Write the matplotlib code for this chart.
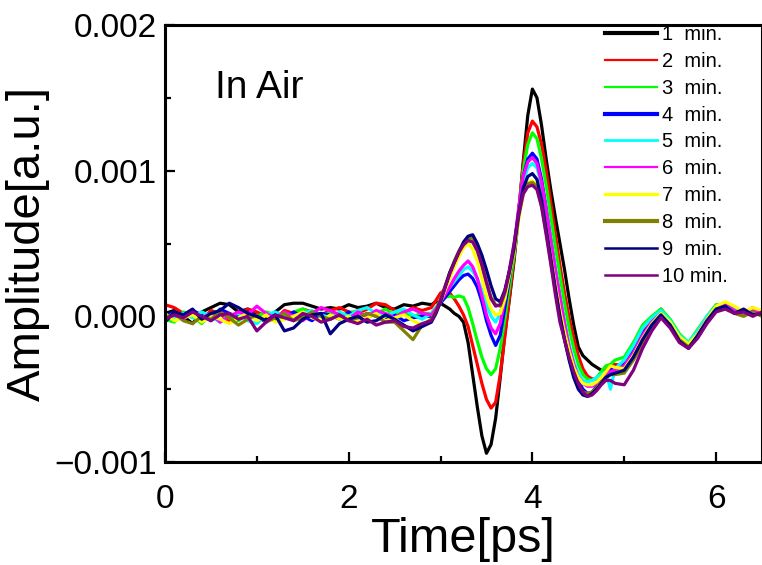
import matplotlib
matplotlib.use('Agg')
import matplotlib.pyplot as plt
from matplotlib.lines import Line2D
from matplotlib.ticker import MultipleLocator, FuncFormatter
import numpy as np

matplotlib.rcParams['font.family'] = ['Liberation Sans', 'DejaVu Sans']

# time grid [ps]: coarse baseline, fine pulse, coarse tail
t_base = np.round(np.arange(0.0, 2.85, 0.1), 2)     # 29 pts
t_pulse = np.round(np.arange(2.9, 4.925, 0.05), 2)  # 41 pts
t_tail = np.round(np.arange(5.0, 6.55, 0.1), 2)     # 16 pts
t = np.concatenate([t_base, t_pulse, t_tail])

labels = ['1  min.', '2  min.', '3  min.', '4  min.', '5  min.',
          '6  min.', '7  min.', '8  min.', '9  min.', '10 min.']
colors = ['#000000', '#ff0000', '#00ff00', '#0000ff', '#00ffff',
          '#ff00ff', '#ffff00', '#808000', '#000080', '#800080']
legend_lw = [3.0, 1.6, 1.6, 3.0, 2.0, 1.6, 2.4, 3.0, 1.8, 1.8]

# amplitude values in units of 1e-5 a.u.
amp_1 = [2, 4, 0, -5, 3, 6, 9, 8, 3, 5, 2, -2, 3, 8, 9, 9, 7, 5, 6, 5, 8, 6, 7, 9, 6, 5, 8, 7, 9] + \
    [8, 10, 9, 7, 5, 2, 0, -4, -18, -40,
     -62, -82, -94, -88, -70, -42, -12, 12, 38, 70,
     106, 138, 156, 150, 131, 108, 87, 68, 50, 32,
     12, -6, -21, -27, -30, -33, -35, -37, -38, -36,
     -35] + \
    [-33, -25, -12, -3, 4, -4, -14, -19, -11, -2, 6, 8, 4, 2, 5, 3]
amp_2 = [8, 6, 2, 0, -3, 4, 2, -4, 1, 5, 3, 0, -2, 4, 2, 5, 3, 1, 4, 6, 3, 2, 5, 9, 8, 4, 2, 6, 4] + \
    [6, 11, 16, 18, 16, 12, 7, 1, -7, -20,
     -33, -46, -57, -63, -59, -40, -14, 13, 40, 72,
     104, 126, 134, 130, 118, 100, 78, 56, 35, 16,
     -1, -15, -27, -36, -41, -43, -43, -40, -37, -34,
     -33] + \
    [-34, -24, -10, -2, 5, -3, -14, -21, -12, -1, 7, 9, 6, 2, 6, 1]
amp_3 = [-2, -4, 3, 0, -5, 2, 4, -1, -3, 2, 0, 3, 1, -2, 3, 5, 2, 0, 3, 1, 2, 4, -1, 2, 5, 1, 3, 0, 2] + \
    [2, 6, 10, 13, 14, 13, 14, 13, 6, -5,
     -17, -28, -36, -40, -36, -22, -2, 20, 42, 72,
     100, 118, 126, 122, 108, 90, 69, 48, 28, 9,
     -8, -22, -33, -40, -43, -44, -42, -38, -34, -33,
     -30] + \
    [-28, -18, -6, 0, 5, -2, -12, -18, -9, 0, 8, 8, 5, 3, 4, 2]
amp_4 = [0, 3, -2, 4, 1, -3, 5, 2, -1, 3, 0, -4, 2, -1, 3, 0, -3, 2, 1, -2, 3, -1, 2, 0, -2, 1, -3, -1, 0] + \
    [0, 4, 9, 13, 17, 21, 25, 28, 29, 26,
     20, 10, -3, -13, -20, -13, 6, 26, 46, 72,
     96, 108, 112, 108, 94, 74, 53, 32, 13, -5,
     -21, -34, -44, -50, -53, -52, -48, -44, -40, -37,
     -35] + \
    [-33, -24, -12, -4, 3, -4, -15, -20, -11, -1, 7, 9, 5, 3, 5, 2]
amp_5 = [1, -2, 2, -1, 3, 0, -4, 1, 2, -3, -5, 1, 3, 0, -2, 2, 4, 1, -1, 3, 0, 4, 6, 2, 0, 3, 5, 1, -2] + \
    [2, 6, 11, 16, 20, 24, 28, 32, 34, 31,
     26, 18, 8, 0, -4, 2, 15, 31, 48, 72,
     92, 102, 105, 102, 90, 72, 52, 32, 13, -4,
     -19, -31, -39, -44, -45, -44, -42, -40, -38, -50,
     -36] + \
    [-30, -20, -8, -1, 4, -3, -13, -18, -10, 0, 7, 8, 5, 2, 4, 3]
amp_6 = [-3, 1, -2, 3, -1, 2, -4, 0, 3, 1, 7, 2, -1, 3, 0, -3, 2, 6, 4, 1, -2, 3, 0, 4, 2, -1, 3, 5, 2] + \
    [1, 5, 10, 15, 20, 26, 31, 35, 38, 34,
     26, 14, 1, -8, -12, -5, 12, 30, 48, 74,
     96, 106, 109, 105, 92, 73, 52, 32, 13, -5,
     -21, -33, -42, -46, -48, -48, -46, -43, -40, -38,
     -37] + \
    [-34, -25, -13, -4, 2, -5, -16, -21, -12, -2, 6, 8, 4, 2, 5, 1]
amp_7 = [2, -3, -1, 1, -4, 0, -2, -5, -1, 2, -3, 1, -4, -2, 0, 3, -1, -3, 1, -2, 0, -4, -1, 2, -3, -1, 1, -3, -6] + \
    [-3, 2, 10, 18, 26, 34, 41, 47, 50, 46,
     38, 26, 14, 5, 1, 2, 12, 28, 44, 66,
     84, 92, 93, 90, 78, 60, 41, 22, 4, -11,
     -24, -35, -42, -46, -47, -47, -45, -42, -38, -34,
     -35] + \
    [-36, -27, -15, -5, 2, -4, -14, -19, -12, -2, 7, 10, 7, 3, 6, 4]
amp_8 = [-1, 2, -3, -5, 0, -2, 3, -1, -6, -2, 1, -4, -1, 2, -3, -1, 3, 0, -2, 1, -3, -1, 2, 0, -4, -4, -10, -16, -6] + \
    [-2, 4, 12, 21, 30, 38, 45, 50, 53, 54,
     47, 36, 24, 13, 8, 7, 16, 30, 46, 68,
     84, 91, 92, 89, 76, 58, 38, 18, 0, -16,
     -29, -40, -48, -52, -53, -52, -49, -45, -42, -40,
     -40] + \
    [-39, -30, -19, -8, 0, -6, -16, -21, -14, -4, 4, 7, 2, 0, 3, 0]
amp_9 = [-4, 3, 1, 5, -2, 2, 4, 9, 6, 2, 0, -3, 1, -10, -8, -2, 1, 2, -12, -5, -2, 0, -4, -3, 1, -2, -6, -10, -7] + \
    [-4, 2, 10, 20, 30, 37, 44, 51, 55, 56,
     50, 42, 32, 21, 12, 10, 18, 31, 47, 70,
     88, 96, 98, 94, 80, 60, 40, 19, 0, -16,
     -30, -42, -50, -54, -55, -53, -50, -46, -42, -40,
     -39] + \
    [-37, -28, -16, -6, 1, -6, -17, -22, -13, -3, 5, 7, 2, 5, 1, 2]
amp_10 = [-2, 1, -1, 3, 0, -3, 1, 2, -2, 0, -10, -4, 1, -1, -3, 2, 0, -4, -2, 1, -3, -5, -2, -6, -4, -3, -7, -8, -5] + \
    [-3, 3, 11, 20, 29, 37, 44, 49, 52, 51,
     45, 35, 23, 12, 7, 8, 17, 32, 50, 70,
     84, 89, 90, 87, 75, 56, 36, 15, -4, -16,
     -28, -38, -46, -52, -55, -54, -51, -47, -44, -44,
     -46] + \
    [-47, -37, -22, -10, -1, -8, -18, -22, -15, -5, 3, 5, 2, 3, 0, 3]

series = [amp_1, amp_2, amp_3, amp_4, amp_5, amp_6, amp_7, amp_8, amp_9, amp_10]
for s in series:
    assert len(s) == len(t), len(s)

fig = plt.figure(figsize=(7.62, 5.65), dpi=100)
ax = fig.add_axes([165 / 762, 103 / 565, 597 / 762, 437 / 565])

for amp, c in zip(series, colors):
    ax.plot(t, np.array(amp) * 1e-5, color=c, linewidth=2.3, solid_joinstyle='round')

ax.set_xlim(0, 6.5)
ax.set_ylim(-0.001, 0.002)
ax.xaxis.set_major_locator(MultipleLocator(2))
ax.xaxis.set_minor_locator(MultipleLocator(1))
ax.yaxis.set_major_locator(MultipleLocator(0.001))
ax.yaxis.set_minor_locator(MultipleLocator(0.0005))
ax.yaxis.set_major_formatter(FuncFormatter(lambda v, p: f'{v:.3f}'.replace('-', '\u2212')))

for sp in ax.spines.values():
    sp.set_linewidth(2.2)
ax.tick_params(which='both', direction='in', top=False, right=False, width=1.6, labelsize=24)
ax.tick_params(which='major', length=7)
ax.tick_params(which='minor', length=4.5)
ax.tick_params(axis='x', pad=16)
ax.tick_params(axis='y', pad=6)

ax.set_xlabel('Time[ps]', fontsize=35, labelpad=1)
ax.set_ylabel('Amplitude[a.u.]', fontsize=34, labelpad=3)

ax.text(0.54, 0.00157, 'In Air', fontsize=28, va='center', ha='left')

handles = [Line2D([], [], color=c, linewidth=lw) for c, lw in zip(colors, legend_lw)]
ax.legend(handles, labels, loc='upper left', bbox_to_anchor=(605 / 762, 1 - 25 / 565),
          bbox_transform=fig.transFigure, frameon=False, fontsize=14.5, borderpad=0,
          borderaxespad=0, handlelength=2.6, handletextpad=0.25, labelspacing=0.39)

fig.savefig('out.png', dpi=100)
